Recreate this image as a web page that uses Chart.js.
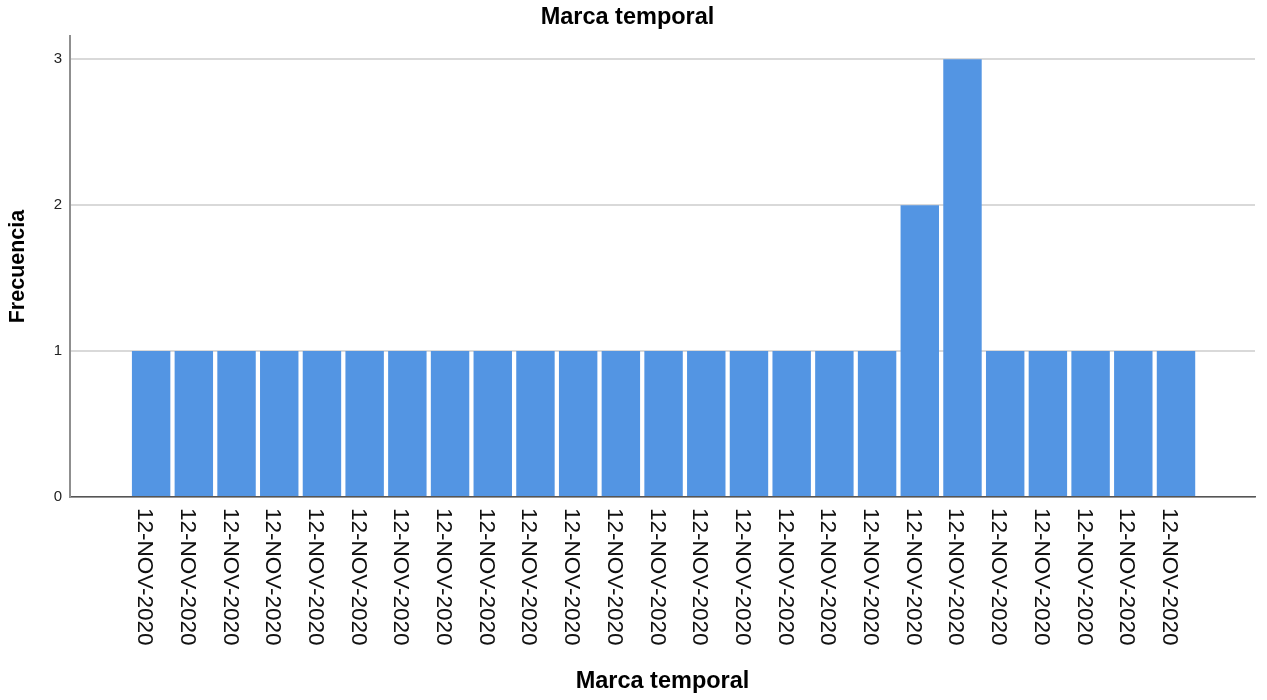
<!DOCTYPE html>
<html>
<head>
<meta charset="utf-8">
<script src="https://cdn.jsdelivr.net/npm/chart.js@4/dist/chart.umd.min.js"></script>
<style>
  html, body { margin: 0; padding: 0; background: #fff; }
  #wrap { width: 1267px; height: 700px; }
</style>
</head>
<body>
<div id="wrap"><canvas id="c" width="1267" height="700"></canvas></div>
<script>
const chartTitle = 'Marca temporal';
const xTitle = 'Marca temporal';
const yTitle = 'Frecuencia';
const categories = [
  '12-NOV-2020','12-NOV-2020','12-NOV-2020','12-NOV-2020','12-NOV-2020',
  '12-NOV-2020','12-NOV-2020','12-NOV-2020','12-NOV-2020','12-NOV-2020',
  '12-NOV-2020','12-NOV-2020','12-NOV-2020','12-NOV-2020','12-NOV-2020',
  '12-NOV-2020','12-NOV-2020','12-NOV-2020','12-NOV-2020','12-NOV-2020',
  '12-NOV-2020','12-NOV-2020','12-NOV-2020','12-NOV-2020','12-NOV-2020'
];
const frequencies = [1,1,1,1,1,1,1,1,1,1,1,1,1,1,1,1,1,1,2,3,1,1,1,1,1];
const yTicks = [0,1,2,3];

const FONT = "'Liberation Sans', Arial, sans-serif";

const rotatedLabels = {
  id: 'rotatedLabels',
  afterDraw(chart) {
    const ctx = chart.ctx;
    const xs = chart.scales.x;
    ctx.save();
    ctx.font = '22.5px ' + FONT;
    ctx.fillStyle = '#111';
    ctx.textAlign = 'left';
    ctx.textBaseline = 'alphabetic';
    categories.forEach((lab, i) => {
      const px = xs.getPixelForValue(i);
      ctx.save();
      ctx.translate(px - 13, xs.top + 11);
      ctx.rotate(Math.PI / 2);
      ctx.fillText(lab, 0, 0);
      ctx.restore();
    });
    ctx.restore();
  }
};

new Chart(document.getElementById('c'), {
  type: 'bar',
  data: {
    datasets: [{
      data: frequencies.map((v, i) => ({ x: i, y: v })),
      backgroundColor: '#5395e3',
      borderWidth: 0,
      barPercentage: 0.9,
      categoryPercentage: 1.0
    }]
  },
  options: {
    responsive: false,
    animation: false,
    events: [],
    layout: { padding: { left: 0, right: 12, top: 0, bottom: 0 } },
    plugins: {
      legend: { display: false },
      tooltip: { enabled: false },
      title: {
        display: true,
        text: chartTitle,
        color: '#000',
        font: { family: FONT, size: 23.5, weight: 'bold', lineHeight: 1.2 },
        padding: { top: 3.5, bottom: 4.3 }
      }
    },
    scales: {
      x: {
        type: 'linear',
        offset: false,
        min: -1.9,
        max: 25.85,
        grid: { display: false, drawTicks: false },
        border: { display: true, color: '#555', width: 1.5 },
        ticks: { display: false },
        title: {
          display: true,
          text: xTitle,
          color: '#000',
          font: { family: FONT, size: 23.5, weight: 'bold', lineHeight: 1.2 },
          padding: { top: 0, bottom: 3.9 }
        },
        afterFit(scale) { scale.height = 203; }
      },
      y: {
        min: 0,
        max: 3.16,
        afterBuildTicks(scale) { scale.ticks = yTicks.map(v => ({ value: v })); },
        ticks: {
          includeBounds: false,
          stepSize: 1,
          padding: 8,
          color: '#222',
          font: { family: FONT, size: 15 }
        },
        grid: { color: '#d9d9d9', lineWidth: 2, drawTicks: false },
        border: { display: true, color: '#8f8f8f', width: 2 },
        title: {
          display: true,
          text: yTitle,
          color: '#000',
          font: { family: FONT, size: 21.5, weight: 'bold', lineHeight: 1.2 },
          padding: { top: 5, bottom: 0 }
        },
        afterFit(scale) { scale.width = 70; }
      }
    }
  },
  plugins: [rotatedLabels]
});
</script>
</body>
</html>
